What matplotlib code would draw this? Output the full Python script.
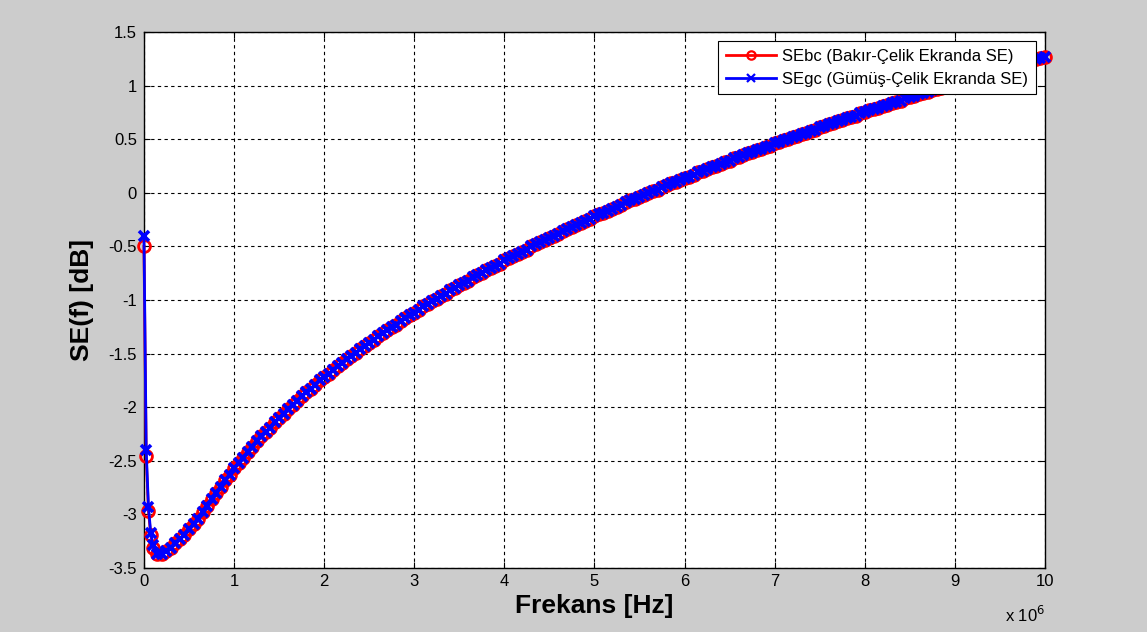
"""SE(f) of copper-steel vs silver-steel shields, MATLAB-like look."""

import matplotlib
matplotlib.use("Agg")
import matplotlib.pyplot as plt

BG = "#cccccc"

# frequency in MHz (axis is shown as x 10^6 Hz)
freq_mhz = [
    0.0, 0.025, 0.05, 0.075, 0.10, 0.15, 0.20, 0.25, 0.30, 0.35, 0.40, 0.45,
    0.50, 0.55, 0.60, 0.65, 0.70, 0.75, 0.80, 0.85, 0.90, 0.95,
    1.00, 1.05, 1.10, 1.15, 1.20, 1.25, 1.30, 1.35, 1.40, 1.45,
    1.50, 1.55, 1.60, 1.65, 1.70, 1.75, 1.80, 1.85, 1.90, 1.95,
    2.00, 2.05, 2.10, 2.15, 2.20, 2.25, 2.30, 2.35, 2.40, 2.45,
    2.50, 2.55, 2.60, 2.65, 2.70, 2.75, 2.80, 2.85, 2.90, 2.95,
    3.00, 3.05, 3.10, 3.15, 3.20, 3.25, 3.30, 3.35, 3.40, 3.45,
    3.50, 3.55, 3.60, 3.65, 3.70, 3.75, 3.80, 3.85, 3.90, 3.95,
    4.00, 4.05, 4.10, 4.15, 4.20, 4.25, 4.30, 4.35, 4.40, 4.45,
    4.50, 4.55, 4.60, 4.65, 4.70, 4.75, 4.80, 4.85, 4.90, 4.95,
    5.00, 5.05, 5.10, 5.15, 5.20, 5.25, 5.30, 5.35, 5.40, 5.45,
    5.50, 5.55, 5.60, 5.65, 5.70, 5.75, 5.80, 5.85, 5.90, 5.95,
    6.00, 6.05, 6.10, 6.15, 6.20, 6.25, 6.30, 6.35, 6.40, 6.45,
    6.50, 6.55, 6.60, 6.65, 6.70, 6.75, 6.80, 6.85, 6.90, 6.95,
    7.00, 7.05, 7.10, 7.15, 7.20, 7.25, 7.30, 7.35, 7.40, 7.45,
    7.50, 7.55, 7.60, 7.65, 7.70, 7.75, 7.80, 7.85, 7.90, 7.95,
    8.00, 8.05, 8.10, 8.15, 8.20, 8.25, 8.30, 8.35, 8.40, 8.45,
    8.50, 8.55, 8.60, 8.65, 8.70, 8.75, 8.80, 8.85, 8.90, 8.95,
    9.00, 9.05, 9.10, 9.15, 9.20, 9.25, 9.30, 9.35, 9.40, 9.45,
    9.50, 9.55, 9.60, 9.65, 9.70, 9.75, 9.80, 9.85, 9.90, 9.95,
    10.00,
]

# copper-steel shield SE [dB]
se_bc = [
    -0.50, -2.46, -2.97, -3.19, -3.31, -3.37, -3.37, -3.34, -3.31, -3.27, -3.23, -3.19,
    -3.14, -3.09, -3.04, -2.98, -2.92, -2.86, -2.80, -2.74, -2.68, -2.63,
    -2.57, -2.52, -2.47, -2.42, -2.37, -2.32, -2.27, -2.23, -2.19, -2.14,
    -2.10, -2.06, -2.02, -1.98, -1.94, -1.90, -1.86, -1.83, -1.79, -1.75,
    -1.72, -1.69, -1.65, -1.62, -1.59, -1.55, -1.52, -1.49, -1.46, -1.43,
    -1.40, -1.37, -1.34, -1.31, -1.28, -1.25, -1.23, -1.20, -1.17, -1.14,
    -1.12, -1.09, -1.06, -1.04, -1.01, -0.99, -0.96, -0.94, -0.91, -0.89,
    -0.86, -0.84, -0.82, -0.79, -0.77, -0.75, -0.72, -0.70, -0.68, -0.66,
    -0.63, -0.61, -0.59, -0.57, -0.55, -0.53, -0.50, -0.48, -0.46, -0.44,
    -0.42, -0.40, -0.38, -0.36, -0.34, -0.32, -0.30, -0.28, -0.26, -0.24,
    -0.22, -0.20, -0.19, -0.17, -0.15, -0.13, -0.11, -0.09, -0.07, -0.06,
    -0.04, -0.02, 0.00, 0.02, 0.03, 0.05, 0.07, 0.09, 0.10, 0.12,
    0.14, 0.15, 0.17, 0.19, 0.20, 0.22, 0.24, 0.25, 0.27, 0.29,
    0.30, 0.32, 0.33, 0.35, 0.37, 0.38, 0.40, 0.41, 0.43, 0.44,
    0.46, 0.47, 0.49, 0.50, 0.52, 0.53, 0.55, 0.56, 0.58, 0.59,
    0.61, 0.62, 0.64, 0.65, 0.67, 0.68, 0.70, 0.71, 0.72, 0.74,
    0.75, 0.77, 0.78, 0.79, 0.81, 0.82, 0.84, 0.85, 0.86, 0.88,
    0.89, 0.90, 0.92, 0.93, 0.94, 0.96, 0.97, 0.98, 1.00, 1.01,
    1.02, 1.04, 1.05, 1.06, 1.08, 1.09, 1.10, 1.11, 1.13, 1.14,
    1.15, 1.16, 1.18, 1.19, 1.20, 1.21, 1.23, 1.24, 1.25, 1.26,
    1.27,
]

# silver-steel: only the first few samples differ visibly from copper-steel
se_gc_head = [-0.40, -2.40, -2.93, -3.17, -3.29]
se_gc = se_gc_head + se_bc[len(se_gc_head):]

plt.rcParams.update({
    "font.family": ["Liberation Sans", "DejaVu Sans"],
    "font.size": 12,
    "axes.unicode_minus": False,
    "figure.facecolor": BG,
    "savefig.facecolor": BG,
})

fig = plt.figure(figsize=(11.47, 6.32), dpi=100)
ax = fig.add_axes([0.1255, 0.1013, 0.7855, 0.8481])
ax.set_facecolor("white")

ax.plot(freq_mhz, se_bc, color="red", lw=2.0, marker="o", ms=8.5,
        mfc="none", mew=2.0, label="SEbc (Bakır-Çelik Ekranda SE)",
        clip_on=False, zorder=3)
ax.plot(freq_mhz, se_gc, color="blue", lw=2.0, marker="x", ms=6.5,
        mew=2.6, label="SEgc (Gümüş-Çelik Ekranda SE)",
        clip_on=False, zorder=4)

ax.set_xlim(0, 10)
ax.set_ylim(-3.5, 1.5)
ax.set_xticks(range(0, 11))
yt = [-3.5, -3, -2.5, -2, -1.5, -1, -0.5, 0, 0.5, 1, 1.5]
ax.set_yticks(yt)
ax.set_yticklabels([f"{v:g}" for v in yt])

ax.set_axisbelow(True)
ax.grid(True, color="black", lw=0.8, linestyle=(0, (3, 3)))
ax.tick_params(direction="in", length=4, width=0.8, top=True, right=True,
               labelsize=12)
ax.tick_params(axis="y", pad=5)
ax.tick_params(axis="x", pad=4)
for sp in ax.spines.values():
    sp.set_linewidth(1.0)
    sp.set_color("black")

ax.set_xlabel("Frekans [Hz]", fontsize=19, weight="bold", labelpad=4)
ax.set_ylabel("SE(f) [dB]", fontsize=19, weight="bold", labelpad=10)

fig.text(1005 / 1147, 1 - 622 / 632, r"x 10$^{6}$", fontsize=12,
         ha="left", va="baseline")

leg = ax.legend(loc="upper right", fontsize=12, fancybox=False,
                edgecolor="black", framealpha=1.0, handlelength=3.0,
                handletextpad=0.4, borderaxespad=0.55, borderpad=0.45,
                labelspacing=0.5)
leg.get_frame().set_linewidth(0.8)
leg.set_zorder(10)
for h in leg.get_lines():
    h.set_markersize(6)
    h.set_markeredgewidth(1.6)

fig.savefig("out.png", dpi=100)
